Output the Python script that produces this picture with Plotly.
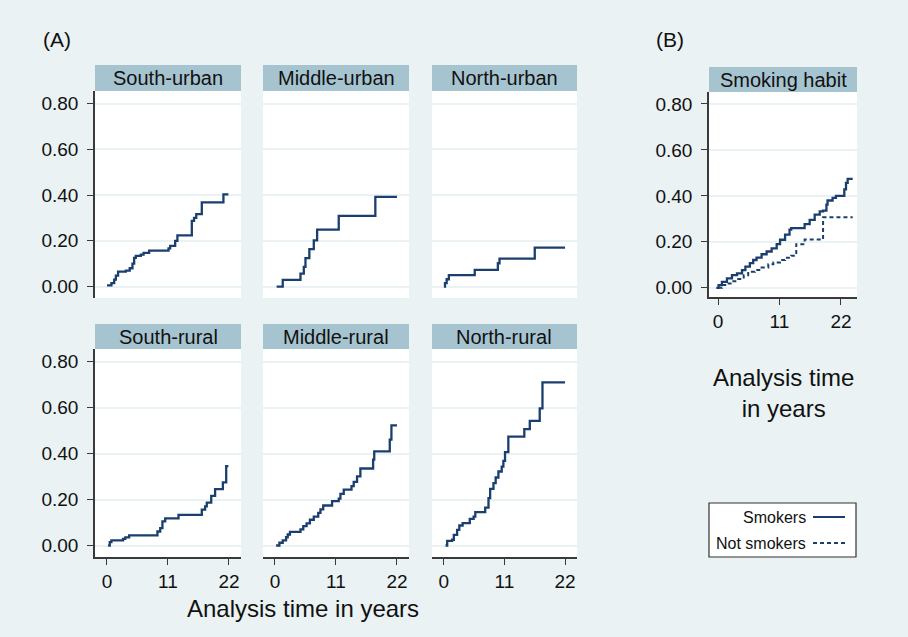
import plotly.graph_objects as go

W, H = 908, 637

# ---------------- data ----------------
panel_titles = ["South-urban", "Middle-urban", "North-urban",
                "South-rural", "Middle-rural", "North-rural"]
x_tick_vals = [0, 11, 22]
y_tick_vals = [0.0, 0.2, 0.4, 0.6, 0.8]

t_south_urban = [0.0, 0.8, 1.3, 1.6, 2.0, 3.4, 4.1, 4.6, 4.9, 5.2, 6.1, 6.6, 7.6,
                 11.1, 11.4, 12.3, 12.7, 15.3, 15.7, 16.1, 17.1, 21.0, 21.9]
v_south_urban = [0.005, 0.015, 0.03, 0.048, 0.065, 0.07, 0.08, 0.10, 0.125, 0.134, 0.14, 0.147, 0.157,
                 0.167, 0.178, 0.20, 0.224, 0.287, 0.30, 0.317, 0.368, 0.403, 0.403]

t_middle_urban = [0.3, 1.4, 4.6, 5.2, 5.5, 6.2, 7.0, 7.6, 11.5, 18.1, 22.0]
v_middle_urban = [0.0, 0.029, 0.057, 0.086, 0.124, 0.164, 0.202, 0.249, 0.309, 0.392, 0.392]

t_north_urban = [0.0, 0.2, 0.5, 0.9, 5.6, 9.8, 10.1, 16.5, 22.0]
v_north_urban = [0.0, 0.015, 0.032, 0.05, 0.073, 0.102, 0.122, 0.170, 0.170]

t_south_rural = [0.2, 0.5, 0.8, 2.9, 3.3, 4.0, 9.1, 9.6, 10.0, 10.5, 12.9, 17.1, 17.7,
                 18.0, 18.8, 19.5, 20.9, 21.5, 21.9]
v_south_rural = [0.0, 0.015, 0.022, 0.029, 0.035, 0.044, 0.061, 0.076, 0.105, 0.118, 0.133, 0.156, 0.170,
                 0.187, 0.216, 0.245, 0.275, 0.345, 0.345]

t_middle_rural = [0.2, 0.8, 1.4, 2.0, 2.3, 2.7, 4.6, 5.1, 5.7, 6.3, 7.0, 7.8, 8.2, 8.7, 10.3,
                  11.5, 11.8, 12.4, 13.8, 14.2, 14.8, 15.4, 17.7, 17.9, 20.7, 21.0, 22.0]
v_middle_rural = [0.0, 0.012, 0.022, 0.036, 0.048, 0.059, 0.070, 0.084, 0.096, 0.112, 0.126, 0.142, 0.157,
                  0.174, 0.193, 0.204, 0.225, 0.243, 0.258, 0.277, 0.301, 0.335, 0.374, 0.41, 0.461, 0.523, 0.523]

t_north_rural = [0.3, 0.6, 1.5, 1.8, 2.4, 2.8, 3.4, 4.7, 5.4, 5.7, 7.5, 8.1, 8.4, 9.0, 9.4, 9.9,
                 10.5, 10.8, 11.1, 11.7, 14.6, 15.6, 17.4, 17.9, 22.0]
v_north_rural = [0.0, 0.020, 0.025, 0.046, 0.068, 0.087, 0.097, 0.116, 0.126, 0.145, 0.165, 0.206,
                 0.246, 0.271, 0.296, 0.322, 0.343, 0.368, 0.406, 0.474, 0.506, 0.542, 0.597, 0.71, 0.71]

smoking_title = "Smoking habit"
series_names = ["Smokers", "Not smokers"]
t_smokers = [-0.3, 0.1, 0.7, 1.6, 2.5, 3.4, 4.3, 4.9, 5.7, 6.3, 6.9, 7.8, 8.7, 9.6, 10.5, 11.1, 12.0,
             12.8, 13.1, 15.5, 16.4, 17.3, 18.2, 18.8, 19.4, 19.6, 20.5, 21.1, 22.6, 22.9, 23.2, 24.1]
v_smokers = [0.0, 0.012, 0.026, 0.041, 0.055, 0.063, 0.077, 0.092, 0.107, 0.121, 0.131, 0.146, 0.158,
             0.172, 0.19, 0.209, 0.231, 0.253, 0.26, 0.277, 0.296, 0.318, 0.333, 0.336, 0.362, 0.38,
             0.391, 0.40, 0.428, 0.457, 0.474, 0.474]
t_not_smokers = [0.0, 0.7, 1.6, 2.5, 3.4, 4.6, 5.4, 6.6, 7.8, 9.0, 9.9, 11.1, 12.0, 13.1, 14.0,
                 15.5, 18.8, 24.1]
v_not_smokers = [0.0, 0.012, 0.019, 0.029, 0.038, 0.055, 0.07, 0.077, 0.088, 0.102, 0.11, 0.121,
                 0.131, 0.14, 0.19, 0.21, 0.307, 0.307]

x_title = "Analysis time in years"
x_title_b = "Analysis time<br>in years"

# ---------------- style ----------------
BG = "#EAF2F3"
STRIP = "#A6C4D0"
NAVY = "#1A3F6F"
AXC = "#3a3a3a"
FONT = "Liberation Sans, Arial, sans-serif"
TICK_FS = 19

def px_x(a, b):
    return [a / W, b / W]

def px_y(top, bottom):
    return [1 - bottom / H, 1 - top / H]

col_px = [(95, 241), (263, 409), (432, 577)]
row_px = [(91, 298), (349, 557)]
strip_px = [(65, 91), (324, 349)]
b_x = (709, 857)
b_y = (92, 297)
b_strip = (67, 92)

panel_series = [(t_south_urban, v_south_urban), (t_middle_urban, v_middle_urban),
                (t_north_urban, v_north_urban), (t_south_rural, v_south_rural),
                (t_middle_rural, v_middle_rural), (t_north_rural, v_north_rural)]

fig = go.Figure()
layout = {}
shapes = []
annotations = []

for k, (tt, vv) in enumerate(panel_series):
    r, c = divmod(k, 3)
    n = k + 1
    xs = "x" if n == 1 else f"x{n}"
    ys = "y" if n == 1 else f"y{n}"
    fig.add_trace(go.Scatter(x=tt, y=vv, mode="lines", line=dict(color=NAVY, width=2.3, shape="hv"),
                             xaxis=xs, yaxis=ys, showlegend=False, hoverinfo="skip"))
    bottom_row = (r == 1)
    layout["xaxis" if n == 1 else f"xaxis{n}"] = dict(
        domain=px_x(*col_px[c]), anchor=ys, range=[-2.16, 24.17],
        showgrid=False, zeroline=False,
        showline=bottom_row, linecolor=AXC, linewidth=1.5,
        ticks="outside" if bottom_row else "", ticklen=6, tickwidth=1.3, tickcolor=AXC,
        tickvals=x_tick_vals, showticklabels=bottom_row,
        tickfont=dict(size=TICK_FS, color="#111", family=FONT))
    left_col = (c == 0)
    layout["yaxis" if n == 1 else f"yaxis{n}"] = dict(
        domain=px_y(*row_px[r]), anchor=xs, range=[-0.05, 0.855],
        showgrid=True, gridcolor=BG, gridwidth=1.5, zeroline=False,
        showline=left_col, linecolor=AXC, linewidth=1.5,
        ticks="outside" if left_col else "", ticklen=6, tickwidth=1.3, tickcolor=AXC,
        tickvals=y_tick_vals, tickformat=".2f", showticklabels=left_col,
        ticklabelstandoff=5,
        tickfont=dict(size=TICK_FS, color="#111", family=FONT))
    sx = px_x(*col_px[c])
    sy = px_y(*strip_px[r])
    shapes.append(dict(type="rect", xref="paper", yref="paper", x0=sx[0], x1=sx[1], y0=sy[0], y1=sy[1],
                       fillcolor=STRIP, line=dict(width=0), layer="below"))
    annotations.append(dict(text=panel_titles[k], xref="paper", yref="paper",
                            x=(sx[0] + sx[1]) / 2, y=(sy[0] + sy[1]) / 2, showarrow=False,
                            xanchor="center", yanchor="middle",
                            font=dict(size=20, color="#111", family=FONT)))

# panel B
fig.add_trace(go.Scatter(x=t_smokers, y=v_smokers, mode="lines", name=series_names[0],
                         line=dict(color=NAVY, width=2.3, shape="hv"),
                         xaxis="x7", yaxis="y7", showlegend=False, hoverinfo="skip"))
fig.add_trace(go.Scatter(x=t_not_smokers, y=v_not_smokers, mode="lines", name=series_names[1],
                         line=dict(color=NAVY, width=2, shape="hv", dash="4px,3px"),
                         xaxis="x7", yaxis="y7", showlegend=False, hoverinfo="skip"))
layout["xaxis7"] = dict(domain=px_x(*b_x), anchor="y7", range=[-1.61, 24.87],
                        showgrid=False, zeroline=False, showline=True, linecolor=AXC, linewidth=1.5,
                        ticks="outside", ticklen=6, tickwidth=1.3, tickcolor=AXC, tickvals=x_tick_vals,
                        tickfont=dict(size=TICK_FS, color="#111", family=FONT))
layout["yaxis7"] = dict(domain=px_y(*b_y), anchor="x7", range=[-0.04, 0.852],
                        showgrid=True, gridcolor=BG, gridwidth=1.5, zeroline=False,
                        showline=True, linecolor=AXC, linewidth=1.5,
                        ticks="outside", ticklen=6, tickwidth=1.3, tickcolor=AXC,
                        tickvals=y_tick_vals, tickformat=".2f", ticklabelstandoff=5,
                        tickfont=dict(size=TICK_FS, color="#111", family=FONT))
bsx = px_x(*b_x)
bsy = px_y(*b_strip)
shapes.append(dict(type="rect", xref="paper", yref="paper", x0=bsx[0], x1=bsx[1], y0=bsy[0], y1=bsy[1],
                   fillcolor=STRIP, line=dict(width=0), layer="below"))
annotations.append(dict(text=smoking_title, xref="paper", yref="paper",
                        x=(bsx[0] + bsx[1]) / 2, y=(bsy[0] + bsy[1]) / 2, showarrow=False,
                        xanchor="center", yanchor="middle", font=dict(size=20, color="#111", family=FONT)))

# panel labels and axis titles
annotations.append(dict(text="(A)", xref="paper", yref="paper", x=41 / W, y=1 - 40 / H, showarrow=False,
                        xanchor="left", yanchor="middle", font=dict(size=21, color="#111", family=FONT)))
annotations.append(dict(text="(B)", xref="paper", yref="paper", x=654 / W, y=1 - 40 / H, showarrow=False,
                        xanchor="left", yanchor="middle", font=dict(size=21, color="#111", family=FONT)))
annotations.append(dict(text=x_title, xref="paper", yref="paper", x=303 / W, y=1 - 608 / H, showarrow=False,
                        xanchor="center", yanchor="middle", font=dict(size=24, color="#111", family=FONT)))
annotations.append(dict(text=x_title_b, xref="paper", yref="paper", x=783 / W, y=1 - 393 / H,
                        showarrow=False, xanchor="center", yanchor="middle",
                        font=dict(size=24, color="#111", family=FONT)))

# legend box (drawn)
lx0, lx1, ly0, ly1 = 709, 856, 503, 557
shapes.append(dict(type="rect", xref="paper", yref="paper", x0=lx0 / W, x1=lx1 / W,
                   y0=1 - ly1 / H, y1=1 - ly0 / H, fillcolor="white",
                   line=dict(color="#333", width=1.2)))
for i, (name, dash) in enumerate(zip(series_names, ["solid", "4px,3px"])):
    yy = 1 - (517 + 26 * i) / H
    annotations.append(dict(text=name, xref="paper", yref="paper", x=808 / W, y=yy, showarrow=False,
                            xanchor="right", yanchor="middle", font=dict(size=16, color="#111", family=FONT)))
    shapes.append(dict(type="line", xref="paper", yref="paper", x0=813 / W, x1=845 / W, y0=yy, y1=yy,
                       line=dict(color=NAVY, width=2, dash=dash)))

fig.update_layout(**layout)
fig.update_layout(width=W, height=H, margin=dict(l=0, r=0, t=0, b=0),
                  paper_bgcolor=BG, plot_bgcolor="white",
                  font=dict(family=FONT, color="#111"),
                  shapes=shapes, annotations=annotations, showlegend=False)

fig.write_html("out.html", config={"displayModeBar": False},
               post_script="document.body.style.margin='0';document.body.style.background='#EAF2F3';")
